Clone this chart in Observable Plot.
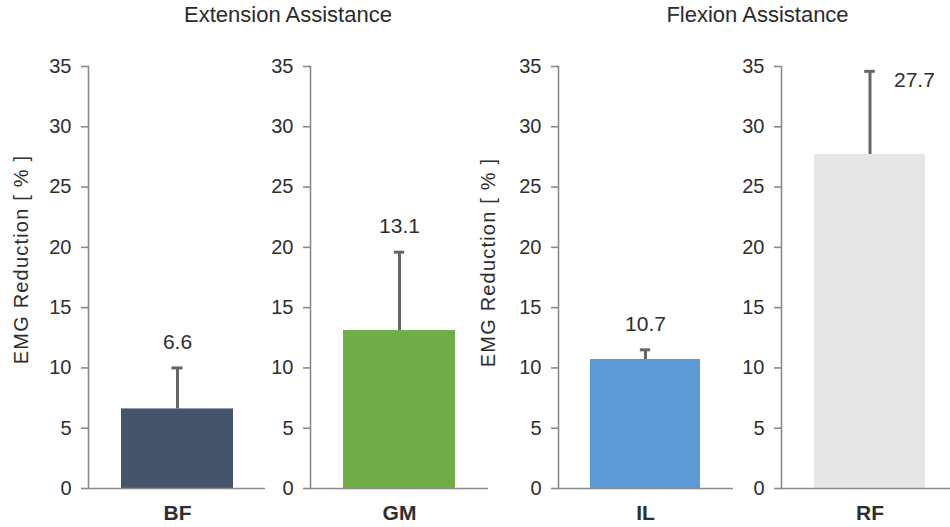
<!DOCTYPE html>
<html><head><meta charset="utf-8">
<script src="https://cdn.jsdelivr.net/npm/d3@7"></script>
<script src="https://cdn.jsdelivr.net/npm/@observablehq/plot@0.6"></script>
<style>
html,body{margin:0;padding:0;background:#fff;overflow:hidden}
#wrap{position:relative;width:950px;height:527px;overflow:hidden;font-family:"Liberation Sans",Arial,sans-serif;}
.panel{position:absolute;top:0}
.panel svg{max-width:none;background:transparent}
.title{position:absolute;top:4px;font-size:22px;line-height:1;color:#2b2b2b;transform:translateX(-50%);white-space:nowrap}
</style></head><body><div id="wrap"></div>
<script>
// ---- data ----
const muscles = ["BF", "GM", "IL", "RF"];
const groups = ["Extension Assistance", "Extension Assistance", "Flexion Assistance", "Flexion Assistance"];
const means = [6.6, 13.1, 10.7, 27.7];
const sds = [3.4, 6.5, 0.8, 6.9];
const colors = ["#44546a", "#70ad47", "#5b9bd5", "#e7e6e6"];
const yTicks = [0, 5, 10, 15, 20, 25, 30, 35];
const yLabel = "EMG Reduction [ % ]";

// ---- layout (pixels) ----
const H = 527, MT = 66, MB = 39;
const layout = [
  {left: 0,   width: 270, ml: 88, mr: 5,  ylab: {x: 21, y: 259}},
  {left: 270, width: 230, ml: 40, mr: 12},
  {left: 475, width: 265, ml: 83, mr: 7,  ylab: {x: 13, y: 262}},
  {left: 700, width: 260, ml: 81, mr: 3}
];
const axisColor = "#8a8a8a", textColor = "#2e2e2e", errColor = "#666";
const font = "'Liberation Sans', Arial, sans-serif";

const wrap = document.getElementById("wrap");
const frameCenter = MT + (H - MT - MB) / 2;

muscles.forEach((m, i) => {
  const L = layout[i];
  const d = [{muscle: m, mean: means[i], upper: means[i] + sds[i], color: colors[i]}];
  const bandPx = (L.width - L.ml - L.mr) * (1 - 0.225) / (1 + 0.225);
  const capInset = (bandPx - 11) / 2;
  const above = d.filter(r => r.upper < 30);
  const side = d.filter(r => r.upper >= 30);
  const marks = [
    Plot.barY(d, {x: "muscle", y: "mean", fill: "color"}),
    Plot.ruleX(d, {x: "muscle", y1: "mean", y2: "upper", stroke: errColor, strokeWidth: 3}),
    Plot.tickY(d, {x: "muscle", y: "upper", stroke: errColor, strokeWidth: 3, insetLeft: capInset, insetRight: capInset}),
    Plot.text(above, {x: "muscle", y: "upper", text: r => r.mean.toFixed(1), lineAnchor: "bottom", dy: -19, fontSize: 21, fill: textColor}),
    Plot.text(side, {x: "muscle", y: "upper", text: r => r.mean.toFixed(1), textAnchor: "start", lineAnchor: "middle", dx: 24, dy: 9, fontSize: 21, fill: textColor}),
    Plot.ruleY([0], {stroke: axisColor, strokeWidth: 1.6}),
    Plot.frame({anchor: "left", stroke: axisColor, strokeWidth: 1.6}),
    Plot.axisY({ticks: yTicks, tickSize: 7, tickPadding: 10, stroke: axisColor, strokeWidth: 1.6, fill: textColor, fontSize: 20, tickFormat: d3.format("d"), label: null}),
    Plot.axisX({tickSize: 0, tickPadding: 17, fontWeight: "bold", fontSize: 21, fill: textColor, label: null})
  ];
  if (L.ylab) {
    marks.push(Plot.text([yLabel], {frameAnchor: "left", rotate: -90, dx: L.ylab.x - L.ml, dy: L.ylab.y - frameCenter, fontSize: 20, fill: textColor, lineAnchor: "middle", textAnchor: "middle"}));
  }
  const chart = Plot.plot({
    width: L.width, height: H,
    marginLeft: L.ml, marginRight: L.mr, marginTop: MT, marginBottom: MB,
    style: {fontFamily: font, background: "transparent", overflow: "visible"},
    x: {domain: [m], padding: 0.225, axis: null},
    y: {domain: [0, 35], axis: null},
    marks
  });
  chart.querySelectorAll("text").forEach(t => { if (t.textContent === yLabel) t.setAttribute("letter-spacing", "1.2"); });
  const div = document.createElement("div");
  div.className = "panel";
  div.style.left = L.left + "px";
  div.appendChild(chart);
  wrap.appendChild(div);
});

// group titles, centered above each pair of panels
const uniqGroups = [...new Set(groups)];
uniqGroups.forEach(g => {
  const idx = groups.map((x, i) => x === g ? i : -1).filter(i => i >= 0);
  const a = layout[idx[0]], b = layout[idx[idx.length - 1]];
  const x0 = a.left + a.ml, x1 = b.left + b.width - b.mr;
  const t = document.createElement("div");
  t.className = "title";
  t.style.left = ((x0 + x1) / 2) + "px";
  t.textContent = g;
  wrap.appendChild(t);
});
</script></body></html>
